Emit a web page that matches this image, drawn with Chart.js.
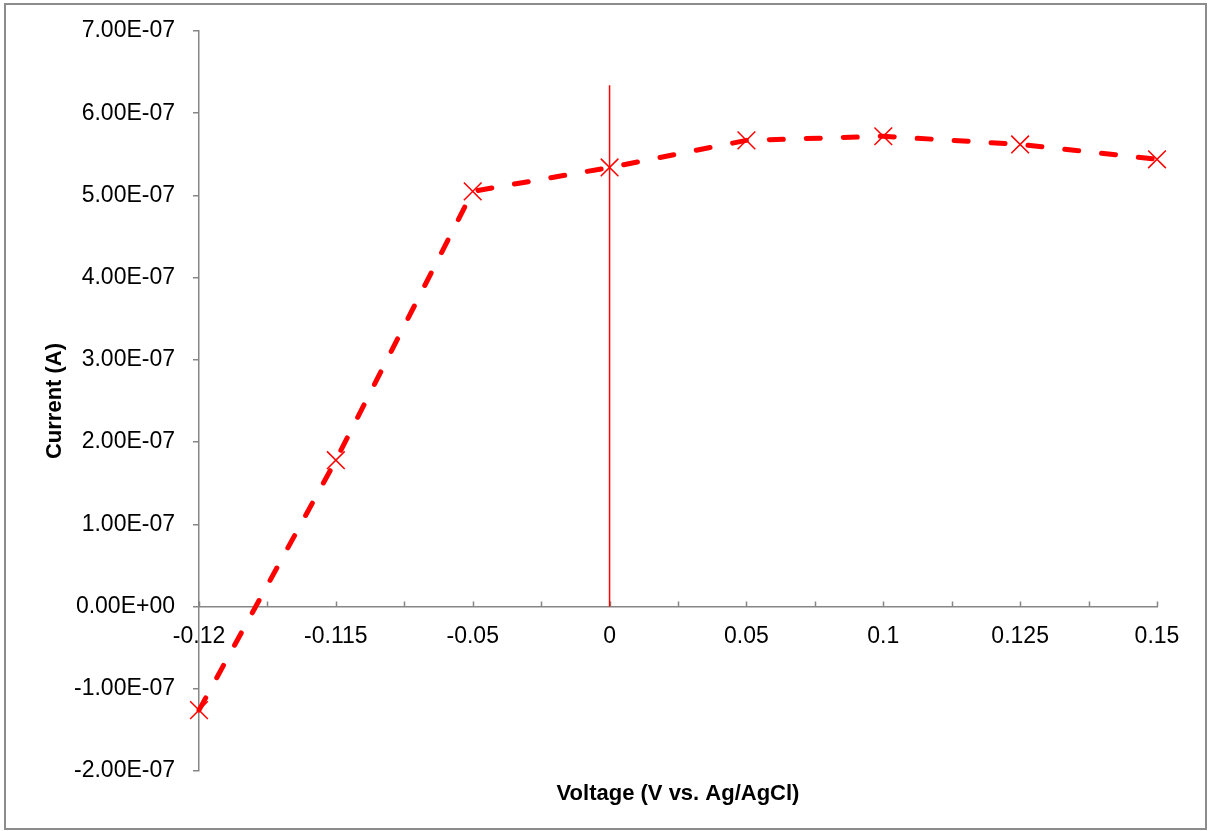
<!DOCTYPE html>
<html>
<head>
<meta charset="utf-8">
<script src="https://cdn.jsdelivr.net/npm/chart.js@4/dist/chart.umd.min.js"></script>
<style>
    body { margin: 0; background: #fff; }
    #frame { position: absolute; left: 4px; top: 3px; border: 2px solid #8c8c8c; background: #fff; }
    canvas { display: block; }
</style>
</head>
<body>
<div id="frame"><canvas id="chart" width="1199" height="823"></canvas></div>
<script>
var voltages = ['-0.12', '-0.115', '-0.05', '0', '0.05', '0.1', '0.125', '0.15'];
var currents = [-1.26e-7, 1.78e-7, 5.05e-7, 5.34e-7, 5.67e-7, 5.72e-7, 5.62e-7, 5.44e-7];
// thin marker line drawn at 0 V
var markerX = ['0', '0'];
var markerY = [0, 6.34e-7];
var yTicks = { min: -2e-7, max: 7e-7, step: 1e-7 };

var axisGray = '#868686';
var font = 'Liberation Sans, Arial, sans-serif';

function sci(v) {
    var parts = v.toExponential(2).split('e');
    var exp = parseInt(parts[1], 10);
    var sign = exp < 0 ? '-' : '+';
    exp = Math.abs(exp);
    return parts[0] + 'E' + sign + (exp < 10 ? '0' + exp : exp);
}

// small upward ticks on the x axis, at each category and halfway between
var xTickMarks = {
    id: 'xTickMarks',
    beforeDatasetsDraw: function(chart) {
        var x = chart.scales.x, y = chart.scales.y;
        var ctx = chart.ctx;
        var y0 = y.getPixelForValue(0);
        ctx.save();
        ctx.strokeStyle = axisGray;
        ctx.lineWidth = 1.5;
        ctx.beginPath();
        for (var i = 0; i <= voltages.length - 1; i += 0.5) {
            var px = Math.round(x.getPixelForValue(i)) + 0.5;
            ctx.moveTo(px, y0);
            ctx.lineTo(px, y0 - 5);
        }
        ctx.stroke();
        ctx.restore();
    }
};

var data = {
    labels: voltages,
    datasets: [
        {
            data: markerX.map(function(v, i) { return {x: v, y: markerY[i]}; }),
            borderColor: '#ff0000',
            borderWidth: 1.5,
            pointRadius: 0,
            clip: false,
            order: 2
        },
        {
            data: currents,
            borderColor: '#ff0000',
            borderWidth: 5,
            borderDash: [14, 23],
            borderCapStyle: 'round',
            pointStyle: 'crossRot',
            pointRadius: 12.5,
            pointBorderWidth: 1.5,
            pointBorderColor: '#ff0000',
            pointBackgroundColor: '#ff0000',
            tension: 0,
            clip: false,
            order: 1
        }
    ]
};

var options = {
    responsive: false,
    animation: false,
    layout: {padding: {left: 0, right: 48, top: 26, bottom: 0}},
    plugins: {legend: {display: false}, tooltip: {enabled: false}},
    scales: {
        x: {
            type: 'category',
            position: {y: 0},
            offset: false,
            grid: {display: false, drawTicks: false},
            border: {display: true, color: axisGray, width: 1.5},
            ticks: {color: '#000', padding: 16, maxRotation: 0, autoSkip: false, font: {family: font, size: 23}}
        },
        x2: {
            type: 'category',
            position: 'bottom',
            offset: false,
            grid: {display: false, drawTicks: false},
            border: {display: false},
            ticks: {display: false},
            title: {display: true, text: 'Voltage (V vs. Ag/AgCl)', color: '#000',
                    padding: {top: 0, bottom: 21}, font: {family: font, size: 22, weight: 'bold'}},
            afterFit: function(scale) { scale.height = 57; }
        },
        y: {
            type: 'linear',
            min: yTicks.min,
            max: yTicks.max,
            grid: {drawOnChartArea: false, drawTicks: true, tickLength: 6, color: axisGray, lineWidth: 1.5},
            border: {display: true, color: axisGray, width: 1.5},
            ticks: {stepSize: yTicks.step, color: '#000', padding: 18, font: {family: font, size: 23},
                    callback: function(v) { return sci(v); }},
            title: {display: true, text: 'Current (A)', color: '#000',
                    padding: {top: 36, bottom: 0}, font: {family: font, size: 22, weight: 'bold'}},
            afterFit: function(scale) {
                // fixed width, and let the layout padding decide the top edge
                scale.width = 193;
                scale.paddingTop = 0;
                scale.paddingBottom = 0;
            }
        }
    }
};

new Chart(document.getElementById('chart').getContext('2d'), {
    type: 'line',
    data: data,
    options: options,
    plugins: [xTickMarks]
});
</script>
</body>
</html>
